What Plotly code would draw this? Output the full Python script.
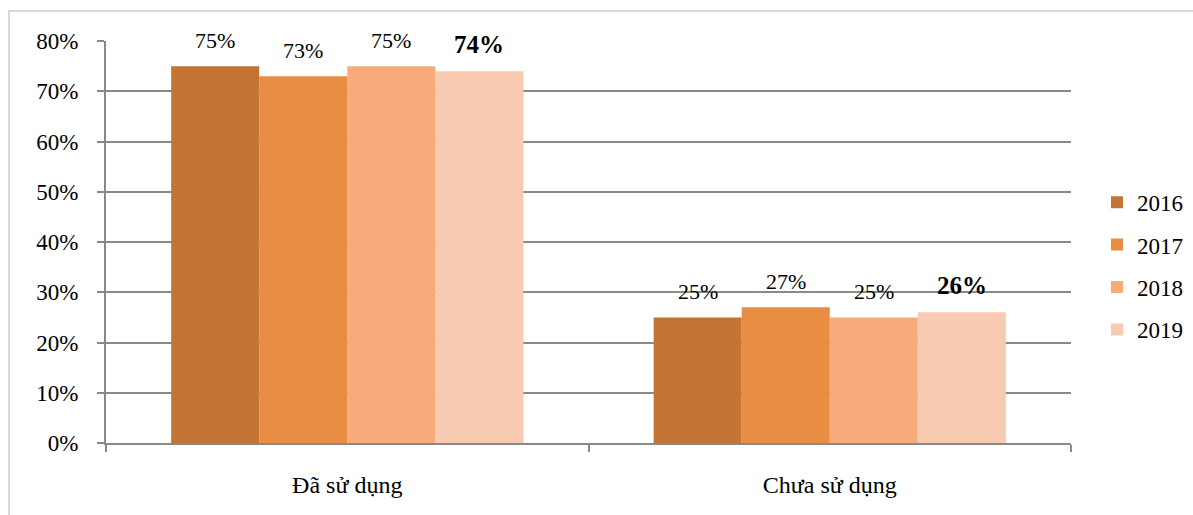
import plotly.graph_objects as go

categories = ["Đã sử dụng", "Chưa sử dụng"]
years = ["2016", "2017", "2018", "2019"]
values = {
    "2016": [75, 25],
    "2017": [73, 27],
    "2018": [75, 25],
    "2019": [74, 26],
}
colors = {"2016": "#C37534", "2017": "#E88D43", "2018": "#F7AB7A", "2019": "#F8CAB2"}

FONT = "Liberation Serif, Times New Roman, serif"
FS = 23
fig = go.Figure()
for yr in years:
    fig.add_trace(go.Bar(name=yr, x=categories, y=values[yr], marker_color=colors[yr],
                         marker_line_width=0, legendgroup=yr))

# data labels
bar_w = 88
n = len(years)
for i, yr in enumerate(years):
    shift = (i - (n - 1) / 2) * bar_w
    bold = yr == "2019"
    for c, v in zip(categories, values[yr]):
        fig.add_annotation(x=c, y=v, xref="x", yref="y", text=(f"<b>{v}%</b>" if bold else f"{v}%"),
                           showarrow=False, yanchor="bottom", xshift=shift, yshift=11,
                           font=dict(family=FONT, size=25 if bold else 22, color="#000"))

fig.add_shape(type="rect", xref="paper", yref="paper", x0=-0.1005, x1=2, y0=-2, y1=1.0746,
              line=dict(color="#D9D9D9", width=2), fillcolor="rgba(0,0,0,0)", layer="below")

fig.update_layout(
    width=1193, height=515,
    margin=dict(l=106, r=122, t=41, b=72, autoexpand=False),
    plot_bgcolor="white", paper_bgcolor="white",
    barmode="group", bargap=0.27, bargroupgap=0,
    font=dict(family=FONT, size=FS, color="#000"),
    legend=dict(xref="container", yref="container", x=1097 / 1193, y=0.483,
                xanchor="left", yanchor="middle",
                font=dict(family=FONT, size=FS), itemwidth=30, tracegroupgap=9.5),
    showlegend=True,
)
fig.update_xaxes(showline=True, linecolor="#898989", linewidth=2, ticks="outside", ticklen=7,
                 tickcolor="#898989", tickwidth=2, tickson="boundaries", ticklabelstandoff=19,
                 tickfont=dict(family=FONT, size=24))
fig.update_yaxes(range=[0, 80], dtick=10, ticksuffix="%", showline=True, linecolor="#898989",
                 linewidth=2, gridcolor="#898989", gridwidth=2, ticks="outside", ticklen=7,
                 tickcolor="#898989", tickwidth=2, ticklabelstandoff=14, zeroline=False,
                 tickfont=dict(family=FONT, size=FS))

fig.write_html("out.html")
